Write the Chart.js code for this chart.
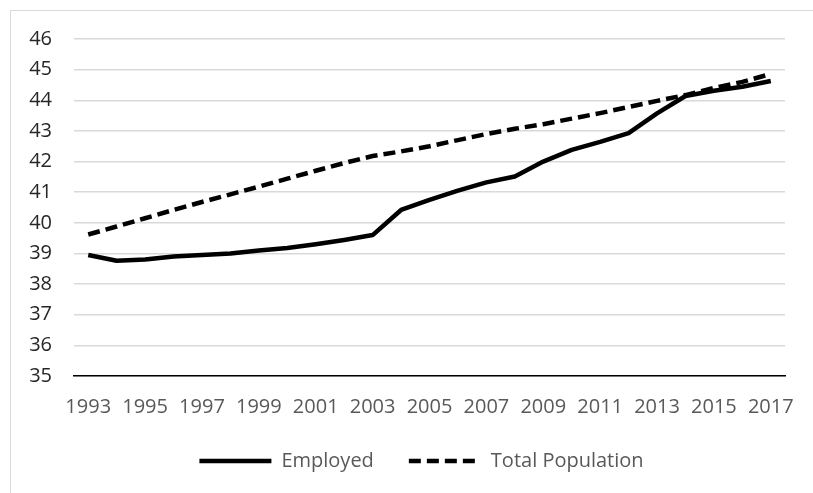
<!DOCTYPE html>
<html>
<head>
<meta charset="utf-8">
<script src="https://cdn.jsdelivr.net/npm/chart.js@4.4.1/dist/chart.umd.min.js"></script>
<style>
  html, body { margin: 0; padding: 0; background: #fff; overflow: hidden; }
  #frame {
    position: absolute; left: 10px; top: 10px;
    width: 824px; height: 520px;
    border: 1px solid #d9d9d9; box-sizing: border-box;
  }
  #chart { position: absolute; left: 10px; top: 10px; }
</style>
</head>
<body>
<div id="frame"></div>
<canvas id="chart" width="824" height="520"></canvas>
<script>
// Values (millions)
const years = ['1993', '1994', '1995', '1996', '1997', '1998', '1999', '2000', '2001',
  '2002', '2003', '2004', '2005', '2006', '2007', '2008', '2009', '2010', '2011',
  '2012', '2013', '2014', '2015', '2016', '2017'];

const employed = [38.95, 38.76, 38.80, 38.90, 38.95, 39.00, 39.10, 39.18, 39.30,
  39.44, 39.60, 40.42, 40.75, 41.05, 41.32, 41.51, 42.00, 42.38, 42.64,
  42.93, 43.57, 44.14, 44.31, 44.44, 44.63];

const totalPopulation = [39.62, 39.88, 40.15, 40.42, 40.68, 40.93, 41.18, 41.44, 41.70,
  41.95, 42.18, 42.33, 42.50, 42.70, 42.90, 43.07, 43.22, 43.40, 43.58,
  43.78, 43.98, 44.17, 44.40, 44.60, 44.86];

const yMin = 35;
const yMax = 46;

const font = "'Open Sans', 'Noto Sans', sans-serif";

// nudge the legend to the right so it sits where the original one does
const legendShift = {
  id: 'legendShift',
  afterLayout(chart) {
    chart.legend.left += 24;
    chart.legend.right += 24;
  }
};

const ctx = document.getElementById('chart').getContext('2d');

new Chart(ctx, {
  type: 'line',
  data: {
    labels: years,
    datasets: [
      {
        label: 'Employed',
        data: employed,
        borderColor: '#000',
        backgroundColor: '#000',
        borderWidth: 4.5,
        pointRadius: 0,
        tension: 0,
        borderJoinStyle: 'round'
      },
      {
        label: 'Total Population',
        data: totalPopulation,
        borderColor: '#000',
        backgroundColor: '#000',
        borderWidth: 4.5,
        borderDash: [12, 6],
        pointRadius: 0,
        tension: 0
      }
    ]
  },
  options: {
    responsive: false,
    animation: false,
    devicePixelRatio: 1,
    layout: { padding: { left: 0, right: 49, top: 29, bottom: 49 } },
    plugins: {
      tooltip: { enabled: false },
      legend: {
        position: 'bottom',
        labels: {
          usePointStyle: true,
          pointStyle: 'line',
          pointStyleWidth: 72,
          boxHeight: 20,
          padding: 35,
          color: '#595959',
          font: { family: font, size: 20 },
          generateLabels(chart) {
            const items = Chart.defaults.plugins.legend.labels.generateLabels(chart);
            items.forEach((item) => {
              item.lineDash = chart.data.datasets[item.datasetIndex].borderDash || [];
              item.lineWidth = 4.5;
            });
            return items;
          }
        }
      }
    },
    scales: {
      x: {
        offset: true,
        grid: { display: false, drawTicks: false },
        border: { display: true, color: '#000', width: 1.5 },
        afterFit: (scale) => { scale.height = 40; },
        ticks: {
          autoSkip: false,
          maxRotation: 0,
          padding: 19,
          color: '#595959',
          font: { family: font, size: 20 },
          callback: function (value, index) {
            return index % 2 === 0 ? this.getLabelForValue(value) : '';
          }
        }
      },
      y: {
        min: yMin,
        max: yMax,
        grid: { color: '#d9d9d9', lineWidth: 1.5, drawTicks: false },
        border: { display: false },
        afterFit: (scale) => {
          scale.width = 64;
          scale.paddingTop = 12;
          scale.paddingBottom = 12;
        },
        ticks: {
          stepSize: 1,
          padding: 22,
          color: '#262626',
          font: { family: font, size: 20 }
        }
      }
    }
  },
  plugins: [legendShift]
});
</script>
</body>
</html>
